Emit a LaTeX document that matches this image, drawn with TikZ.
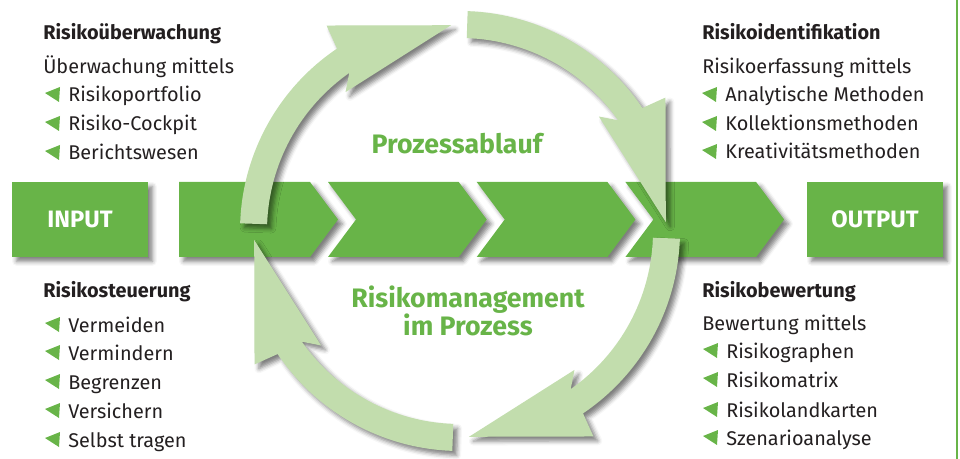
\documentclass[tikz,border=0pt]{standalone}
\usepackage{fontspec}
\setmainfont{Fira Sans}
\usepackage{tikz}
\usetikzlibrary{shadows.blur}

\definecolor{bargreen}{RGB}{104,180,72}
\definecolor{ringgreen}{RGB}{194,221,173}
\definecolor{textgray}{RGB}{35,31,32}

\tikzset{
  shadowed/.style={blur shadow={shadow xshift=2.5pt, shadow yshift=-2.5pt, shadow blur radius=2.5pt, shadow opacity=50}},
  endbox/.style={fill=bargreen, shadowed, minimum width=2.72cm, minimum height=1.5cm, inner sep=0pt,
    text=white, font=\bfseries\fontsize{13.5}{16}\selectfont},
  heading/.style={anchor=base west, inner sep=0pt, text=textgray, font=\bfseries\fontsize{11.3}{13}\selectfont},
  listline/.style={anchor=base west, inner sep=0pt, text=textgray, font=\fontsize{11.3}{13}\selectfont},
  bigtitle/.style={inner sep=0pt, text=bargreen, align=center, font=\bfseries\fontsize{15.2}{15.9}\selectfont}
}

\begin{document}
\begin{tikzpicture}[x=0.02cm, y=-0.02cm]
    \useasboundingbox (0,0) rectangle (960,459);

    % text blocks
    \node[heading] (ueTitle) at (43,40) {Risikoüberwachung};
    \node[listline] (ueIntro) at (43,74) {Überwachung mittels};
    \node[listline] (ue1) at (68,102) {Risikoportfolio};
    \node[listline] (ue2) at (68,131) {Risiko-Cockpit};
    \node[listline] (ue3) at (68,160) {Berichtswesen};

    \node[heading] (idTitle) at (702,40) {Risikoidentifikation};
    \node[listline] (idIntro) at (702,74) {Risikoerfassung mittels};
    \node[listline] (id1) at (725,102) {Analytische Methoden};
    \node[listline] (id2) at (725,131) {Kollektionsmethoden};
    \node[listline] (id3) at (725,159) {Kreativitätsmethoden};

    \node[heading] (stTitle) at (43,297) {Risikosteuerung};
    \node[listline] (st1) at (68,332) {Vermeiden};
    \node[listline] (st2) at (68,360) {Vermindern};
    \node[listline] (st3) at (68,389) {Begrenzen};
    \node[listline] (st4) at (68,418) {Versichern};
    \node[listline] (st5) at (68,447) {Selbst tragen};

    \node[heading] (bwTitle) at (702,297) {Risikobewertung};
    \node[listline] (bwIntro) at (702,330) {Bewertung mittels};
    \node[listline] (bw1) at (726,358) {Risikographen};
    \node[listline] (bw2) at (726,387) {Risikomatrix};
    \node[listline] (bw3) at (726,417) {Risikolandkarten};
    \node[listline] (bw4) at (726,445) {Szenarioanalyse};

    % bullets
    \foreach \n in {ue1,ue2,ue3,id1,id2,id3,st1,st2,st3,st4,st5,bw1,bw2,bw3,bw4}
        \fill[bargreen] (\n.base west) ++(-23,-9) -- ++(15,-6) -- ++(-1,15) -- cycle;

    % process bar
    \node[endbox] (input) at (80,219.5) {INPUT};
    \node[endbox] (output) at (875,219.5) {OUTPUT};
    \fill[bargreen, shadowed] (179,182) -- (310,182) -- (338,219.5) -- (310,257) -- (179,257) -- cycle;
    \foreach \i in {2,3,4} {
        \pgfmathsetmacro\R{310+148.7*(\i-1)}
        \pgfmathsetmacro\L{310+148.7*(\i-2)+18}
        \fill[bargreen, shadowed] (\L,182) -- (\R,182) -- (\R+28,219.5) -- (\R,257) -- (\L,257) -- (\L+28,219.5) -- cycle;
    }

    % cycle arrows
    \begin{scope}[shift={(460,231)}]
        \foreach \s in {2,92,182,272}
            \fill[ringgreen, shadowed] (\s:220) arc[start angle=\s, end angle=\s+54, radius=220]
                -- (\s+55:245) -- (\s+85.5:206) -- (\s+48.5:180) -- (\s+53:193)
                arc[start angle=\s+53, end angle=\s, radius=193] -- cycle;
    \end{scope}

    \node[bigtitle] (prozess) at (457,144) {Prozessablauf};
    \node[bigtitle] (rmtext) at (468,311) {Risikomanagement\\im Prozess};

    \draw[bargreen, line width=0.04cm] (957,0) -- (957,459);
\end{tikzpicture}
\end{document}
